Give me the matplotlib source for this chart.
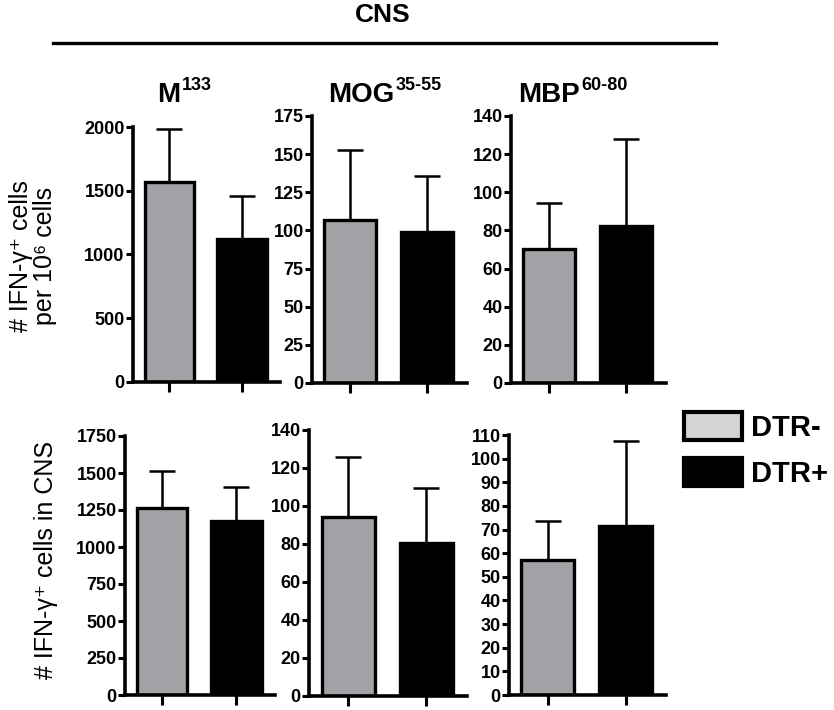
import matplotlib
matplotlib.use("Agg")
import matplotlib.pyplot as plt
from matplotlib.lines import Line2D
from matplotlib.patches import Patch
from matplotlib import font_manager

# values
groups = ["DTR-", "DTR+"]
peptides = ["M", "MOG", "MBP"]
peptide_sup = ["133", "35-55", "60-80"]

# row 1: IFN-g+ cells per 10^6 cells
per_million_neg = [1565, 107, 70]
per_million_neg_err = [419, 46, 24.5]
per_million_pos = [1121, 99, 82.5]
per_million_pos_err = [338, 37, 45.5]

# row 2: IFN-g+ cells in CNS
in_cns_neg = [1263, 94, 57]
in_cns_neg_err = [250, 32, 16.5]
in_cns_pos = [1176, 80.5, 71.5]
in_cns_pos_err = [229, 29, 36]

ytops = [[2000, 175, 140], [1750, 140, 110]]
ysteps = [[500, 25, 20], [250, 20, 10]]

gray = "#a2a2a6"
W, H = 834, 710

installed = {f.name for f in font_manager.fontManager.ttflist}
tick_font = "Liberation Sans Narrow" if "Liberation Sans Narrow" in installed else "Liberation Sans"
main_font = ["Liberation Sans", "DejaVu Sans"]

fig = plt.figure(figsize=(W / 100, H / 100), dpi=100)

# axes boxes in pixels: left, right, top, bottom
boxes = [[(133, 280, 127, 382), (312, 467, 116, 383), (511, 666, 116, 383)],
         [(125, 275, 436, 695), (309, 467, 430, 696), (509, 666, 435, 695)]]

rows = [(per_million_neg, per_million_neg_err, per_million_pos, per_million_pos_err),
        (in_cns_neg, in_cns_neg_err, in_cns_pos, in_cns_pos_err)]

for r in range(2):
    neg, neg_err, pos, pos_err = rows[r]
    for c in range(3):
        l, rt, t, b = boxes[r][c]
        ax = fig.add_axes([l / W, 1 - b / H, (rt - l) / W, (b - t) / H])
        x = [1, 2]
        vals = [neg[c], pos[c]]
        errs = [neg_err[c], pos_err[c]]
        ax.errorbar(x, vals, yerr=[[0, 0], errs], fmt="none", ecolor="black",
                    elinewidth=1.8, capsize=9.5, capthick=1.8, zorder=1)
        ax.bar(x, vals, width=0.68, color=[gray, "black"], edgecolor="black",
               linewidth=2.4, zorder=2)
        ax.set_xlim(0.5, 2.52)
        ax.set_ylim(0, ytops[r][c])
        ax.set_yticks(range(0, ytops[r][c] + 1, ysteps[r][c]))
        ax.set_xticks(x)
        ax.set_xticklabels([])
        for s in ["top", "right"]:
            ax.spines[s].set_visible(False)
        for s in ["left", "bottom"]:
            ax.spines[s].set_linewidth(2.6)
        ax.spines["left"].set_bounds(0, ytops[r][c])
        ax.tick_params(axis="y", length=5, width=2.2, pad=1)
        ax.tick_params(axis="x", length=7, width=2.2)
        for lab in ax.get_yticklabels():
            lab.set_fontfamily(tick_font)
            lab.set_fontweight("bold")
            lab.set_fontsize(13)

# header
fig.text(383 / W, 1 - 15 / H, "CNS", ha="center", va="center",
         fontsize=19, fontweight="bold", family=main_font)
fig.add_artist(Line2D([53 / W, 716 / W], [1 - 43 / H, 1 - 43 / H],
                      color="black", linewidth=2.4))

# panel titles with superscripts
renderer = fig.canvas.get_renderer()
title_left = [157, 328, 518]
for i in range(3):
    base = fig.text(title_left[i] / W, 1 - 102 / H, peptides[i], ha="left",
                    va="baseline", fontsize=20, fontweight="bold", family=main_font)
    bb = base.get_window_extent(renderer)
    fig.text(bb.x1 / W + 0.002, 1 - 90 / H, peptide_sup[i], ha="left",
             va="baseline", fontsize=13, fontweight="bold", family=main_font)

# y labels
fig.text(33 / W, 1 - 256 / H, "# IFN-\u03b3\u207a cells\nper 10\u2076 cells",
         rotation=90, ha="center", va="center", fontsize=18,
         linespacing=1.05, family=main_font)
fig.text(46 / W, 1 - 560 / H, "# IFN-\u03b3\u207a cells in CNS",
         rotation=90, ha="center", va="center", fontsize=18, family=main_font)

# legend
handles = [Patch(facecolor="#d4d4d4", edgecolor="black", linewidth=3),
           Patch(facecolor="black", edgecolor="black", linewidth=3)]
fig.legend(handles, groups, loc="upper left", bbox_to_anchor=(684 / W, 1 - 412 / H),
           frameon=False, handlelength=2.0, handleheight=1.1, handletextpad=0.3,
           labelspacing=0.55, borderpad=0, borderaxespad=0,
           prop={"family": main_font, "weight": "bold", "size": 21})

fig.savefig("out.png", dpi=100)
